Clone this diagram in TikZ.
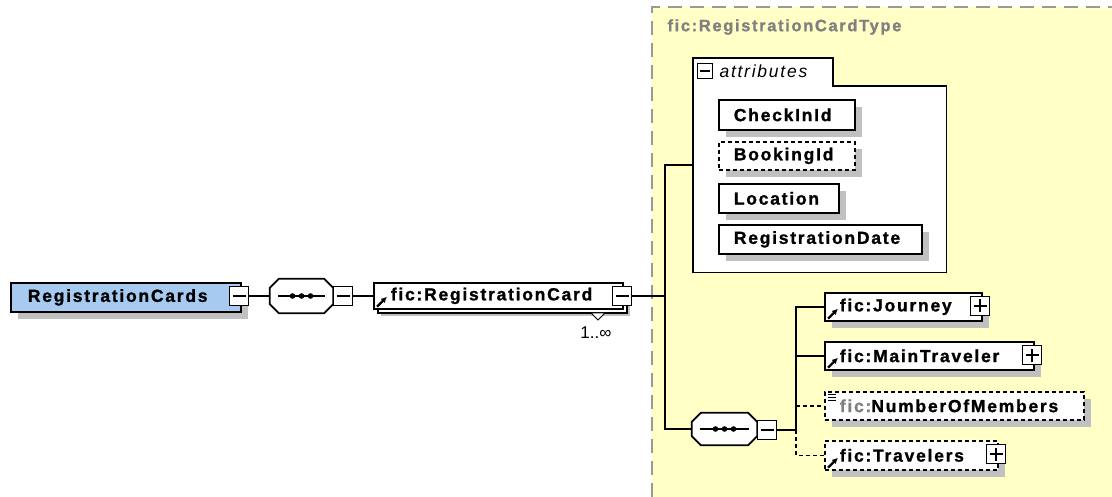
\documentclass[tikz,border=0pt]{standalone}
\usepackage{fontspec}
\setmainfont{Liberation Sans}
\newfontfamily\boxfont[LetterSpace=10, BoldFeatures={FakeBold=1.2}]{Liberation Sans}
\usetikzlibrary{shadows,arrows.meta}

\definecolor{typefill}{RGB}{255,255,198}
\definecolor{rootfill}{RGB}{166,202,240}
\definecolor{shadowgray}{RGB}{192,192,192}

\tikzset{
  elem/.style={draw, fill=white, line width=1.7pt, anchor=north west, align=left,
    inner xsep=15pt, inner ysep=0pt, minimum height=28pt,
    font=\boxfont\bfseries\fontsize{17.5}{19}\selectfont,
    drop shadow={shadow xshift=7pt, shadow yshift=-7pt, fill=shadowgray, opacity=1}},
  optional/.style={dash pattern=on 4pt off 3pt},
  pmbox/.style={draw, fill=white, line width=1.4pt, minimum size=19pt, inner sep=0pt},
  minus/.style={pmbox, path picture={
    \draw [line width=1.4pt] ([xshift=3pt]path picture bounding box.west) -- ([xshift=-3pt]path picture bounding box.east);}},
  plus/.style={pmbox, path picture={
    \draw [line width=1.4pt] ([xshift=3pt]path picture bounding box.west) -- ([xshift=-3pt]path picture bounding box.east);
    \draw [line width=1.4pt] ([yshift=3pt]path picture bounding box.south) -- ([yshift=-3pt]path picture bounding box.north);}},
  conn/.style={line width=1.7pt},
  refarrow/.style={-{Latex[length=6pt,width=6pt]}, line width=2.2pt},
}

% sequence compositor: octagon with shadow and dots
\newcommand\seqoct[1]{%
  \fill [shadowgray, xshift=7pt, yshift=-7pt] ([xshift=9pt]#1.north west) -- ([xshift=-9pt]#1.north east) -- ([yshift=-9pt]#1.north east) -- ([yshift=9pt]#1.south east) -- ([xshift=-9pt]#1.south east) -- ([xshift=9pt]#1.south west) -- ([yshift=9pt]#1.south west) -- ([yshift=-9pt]#1.north west) -- cycle;
  \draw [line width=1.7pt, fill=white] ([xshift=9pt]#1.north west) -- ([xshift=-9pt]#1.north east) -- ([yshift=-9pt]#1.north east) -- ([yshift=9pt]#1.south east) -- ([xshift=-9pt]#1.south east) -- ([xshift=9pt]#1.south west) -- ([yshift=9pt]#1.south west) -- ([yshift=-9pt]#1.north west) -- cycle;
  \draw [line width=1.7pt] ([xshift=8pt]#1.west) -- ([xshift=-8pt]#1.east);
  \foreach \dx in {-9,0,9} \fill ([xshift=\dx pt]#1.center) circle [radius=2.8pt];
}

\begin{document}
\begin{tikzpicture}[x=1pt, y=-1pt]
  \useasboundingbox (0,0) rectangle (1112,497);

  % type area
  \fill [typefill] (652,7) rectangle (1112,497);
  \draw [gray!80, line width=1.6pt, dash pattern=on 14pt off 8pt] (652,497) -- (652,7) -- (1112,7);
  \node [anchor=west, text=gray, font=\boxfont\bfseries\fontsize{16.5}{18}\selectfont] (typename) at (664,27) {fic:RegistrationCardType};

  % root element
  \node [elem, fill=rootfill, text width=196pt, inner xsep=17pt, minimum height=29pt] (root) at (10,282) {RegistrationCards};
  \node [minus] (m0) at (239,296) {};

  % first sequence
  \node [minimum width=63pt, minimum height=34pt, inner sep=0pt] (s1) at (301.5,296) {};
  \seqoct{s1}
  \node [minus] (m1) at (343,296) {};

  % registration card element (1..unbounded)
  \node [elem, copy shadow={shadow xshift=4pt, shadow yshift=-4pt}, text width=215pt, inner xsep=17pt, minimum height=26pt] (card) at (373,282) {fic:RegistrationCard};
  \node [minus] (m2) at (622,296) {};
  \draw [refarrow] ([xshift=4pt, yshift=3pt]card.south west) -- ++(10,-10);
  \draw [line width=1pt, fill=white] (591,313) -- (605,313) -- (598,320) -- cycle;
  \node [font=\fontsize{17}{19}\selectfont] (mult) at (596,333) {1..∞};

  % attributes group
  \node [minimum width=253pt, minimum height=214pt, inner sep=0pt, anchor=north west] (attrs) at (693,58) {};
  \draw [line width=1.7pt, fill=white] (attrs.south west) -- (attrs.north west) -- ++(140,0) -- ++(0,28) -- ([yshift=-28pt]attrs.north east) -- (attrs.south east) -- cycle;
  \node [pmbox, minimum size=15pt, path picture={\draw [line width=1.3pt] ([xshift=2.5pt]path picture bounding box.west) -- ([xshift=-2.5pt]path picture bounding box.east);}] (ma) at (705,71) {};
  \node [anchor=west, font=\boxfont\itshape\fontsize{17.5}{19}\selectfont] (attrlabel) at (716,71) {attributes};

  \node [elem, text width=106pt, minimum height=30pt] (checkin) at (718,99) {CheckInId};
  \node [elem, optional, text width=106pt] (booking) at (718,141) {BookingId};
  \node [elem, text width=90pt, minimum height=29pt] (location) at (718,183) {Location};
  \node [elem, text width=173pt, minimum height=29pt] (regdate) at (718,224) {RegistrationDate};

  % second sequence
  \node [minimum width=65pt, minimum height=32pt, inner sep=0pt] (s2) at (724.5,429) {};
  \seqoct{s2}
  \node [minus] (m3) at (767,430) {};

  % child elements
  \node [elem, text width=127pt] (journey) at (824,292) {fic:Journey};
  \node [plus] (p1) at (980,306) {};
  \node [elem, text width=179pt] (traveler) at (824,341) {fic:MainTraveler};
  \node [plus] (p2) at (1032,355) {};
  \node [elem, optional, text width=229pt] (members) at (824,391) {\textcolor{gray}{fic:}NumberOfMembers};
  \node [elem, optional, text width=143pt, minimum height=29pt] (travelers) at (824,440) {fic:Travelers};
  \node [plus] (p3) at (996,454) {};

  % ref arrows and simple type mark
  \foreach \n in {journey, traveler, travelers}
    \draw [refarrow] ([xshift=4pt, yshift=3pt]\n.south west) -- ++(10,-10);
  \foreach \dy in {3,6,9}
    \draw [line width=1pt] ([xshift=4pt, yshift=-\dy pt]members.north west) -- ++(8,0);

  % connectors
  \coordinate (j1) at (665,296);
  \coordinate (j2) at (796,430);
  \draw [conn] (m0) -- (s1);
  \draw [conn] (m1) -- (card);
  \draw [conn] (m2) -- (j1);
  \draw [conn] (attrs.west) -| (j1) |- (s2.west);
  \draw [conn] (m3) -- (j2);
  \draw [conn] (j2) |- (journey.west);
  \draw [conn] (j2 |- traveler.west) -- (traveler.west);
  \draw [conn, optional] (j2 |- members.west) -- (members.west);
  \draw [conn, optional] (j2) |- (travelers.west);
\end{tikzpicture}
\end{document}
